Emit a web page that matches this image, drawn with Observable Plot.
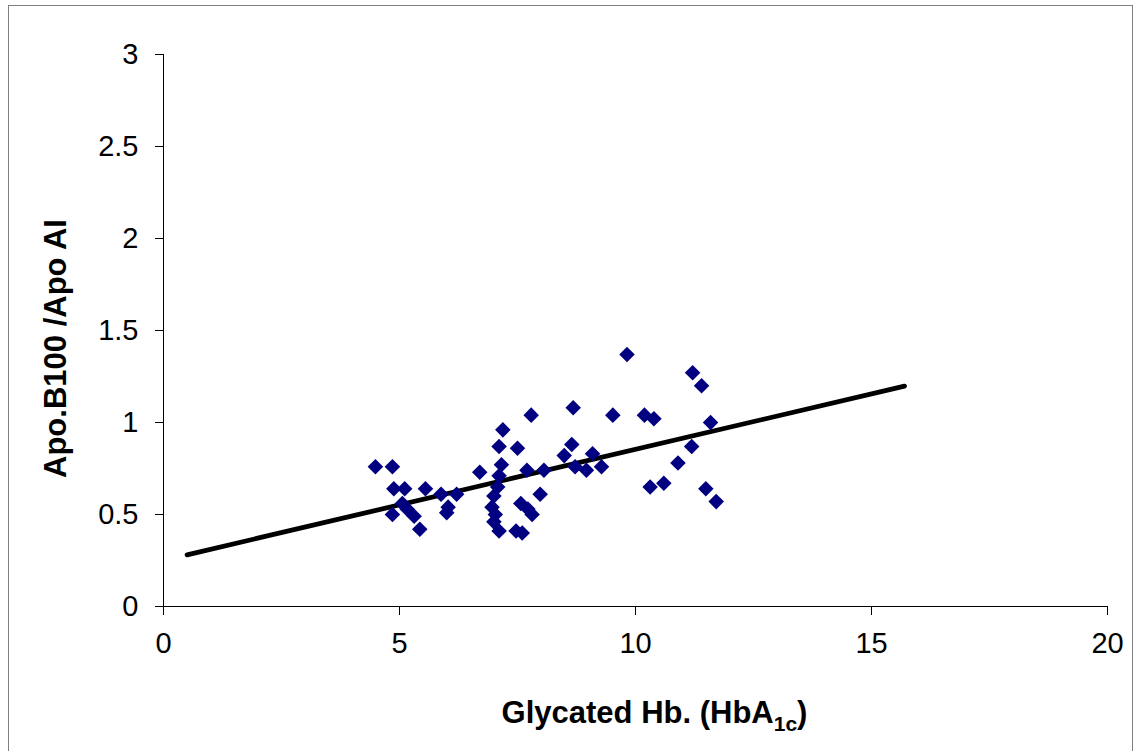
<!DOCTYPE html>
<html><head><meta charset="utf-8">
<script src="https://cdn.jsdelivr.net/npm/d3@7"></script>
<script src="https://cdn.jsdelivr.net/npm/@observablehq/plot@0.6"></script>
<style>
body{margin:0;background:#fff;}
#wrap{position:relative;width:1134px;height:751px;overflow:hidden;}
#border{position:absolute;left:8px;top:5px;width:1125px;height:750px;border:1px solid #808080;box-sizing:border-box;pointer-events:none}
#chart{position:absolute;left:0;top:0}
</style></head><body><div id="wrap"><div id="chart"></div><div id="border"></div></div>
<script>
const hba1c = [4.49, 4.85, 4.88, 5.11, 5.55, 5.88, 6.21, 5.06, 4.85, 5.16, 5.31, 5.43, 6.03, 6.00, 6.70, 7.19, 7.11, 7.50, 7.79, 7.16, 7.11, 7.08, 7.00, 6.96, 7.03, 7.00, 7.11, 7.70, 8.06, 7.98, 7.57, 7.72, 7.81, 7.47, 7.60, 8.68, 9.52, 10.19, 10.39, 11.21, 11.40, 11.59, 8.65, 8.49, 8.72, 8.96, 9.09, 9.28, 11.19, 10.90, 10.31, 10.60, 11.49, 11.71, 9.82];
const apoRatio = [0.76, 0.76, 0.64, 0.64, 0.64, 0.61, 0.61, 0.56, 0.50, 0.53, 0.49, 0.42, 0.54, 0.51, 0.73, 0.96, 0.87, 0.86, 1.04, 0.77, 0.71, 0.65, 0.60, 0.54, 0.50, 0.46, 0.41, 0.74, 0.74, 0.61, 0.56, 0.53, 0.50, 0.41, 0.40, 1.08, 1.04, 1.04, 1.02, 1.27, 1.20, 1.00, 0.88, 0.82, 0.76, 0.74, 0.83, 0.76, 0.87, 0.78, 0.65, 0.67, 0.64, 0.57, 1.37];
const trendX = [0.5, 15.7];
const trendY = [0.281, 1.198];
const xTicks = [0, 5, 10, 15, 20];
const yTicks = [0, 0.5, 1, 1.5, 2, 2.5, 3];
const xTitleMain = "Glycated Hb. (HbA";
const xTitleSub = "1c";
const xTitleEnd = ")";
const yTitle = "Apo.B100 /Apo AI";

const pts = hba1c.map((x, i) => ({x, y: apoRatio[i]}));
const trend = trendX.map((x, i) => ({x, y: trendY[i]}));

const chart = Plot.plot({
  width: 1134, height: 751,
  marginLeft: 163, marginRight: 27, marginTop: 54, marginBottom: 145,
  style: {fontFamily: "Arial, 'Liberation Sans', sans-serif", background: "transparent", color: "#000"},
  x: {domain: [0, 20]},
  y: {domain: [0, 3]},
  marks: [
    Plot.ruleY([0], {stroke: "#000"}),
    Plot.ruleX([0], {stroke: "#000"}),
    Plot.axisX({ticks: xTicks, tickSize: 9, tickPadding: 17, fontSize: 29, label: null, tickFormat: d => String(d)}),
    Plot.axisY({ticks: yTicks, tickSize: 8, tickPadding: 17, fontSize: 29, label: null, tickFormat: d => String(d)}),
    Plot.line(trend, {x: "x", y: "y", stroke: "#000", strokeWidth: 4.8}),
    Plot.dot(pts, {x: "x", y: "y", symbol: "diamond2", r: 7, fill: "#000080", stroke: "none"}),
    Plot.text([yTitle], {frameAnchor: "left", textAnchor: "middle", rotate: -90, dx: -107, dy: 18, fontWeight: "bold", fontSize: 31}),
    Plot.text([xTitleMain], {frameAnchor: "bottom", dx: 19, dy: 116, fontWeight: "bold", fontSize: 31, className: "xtitle"})
  ]
});
document.getElementById("chart").appendChild(chart);

const t = d3.select(chart).select("g.xtitle text");
t.text(null);
t.append("tspan").text(xTitleMain);
t.append("tspan").attr("font-size", 21).attr("dy", 8).text(xTitleSub);
t.append("tspan").attr("dy", -8).text(xTitleEnd);
</script>
</body></html>
